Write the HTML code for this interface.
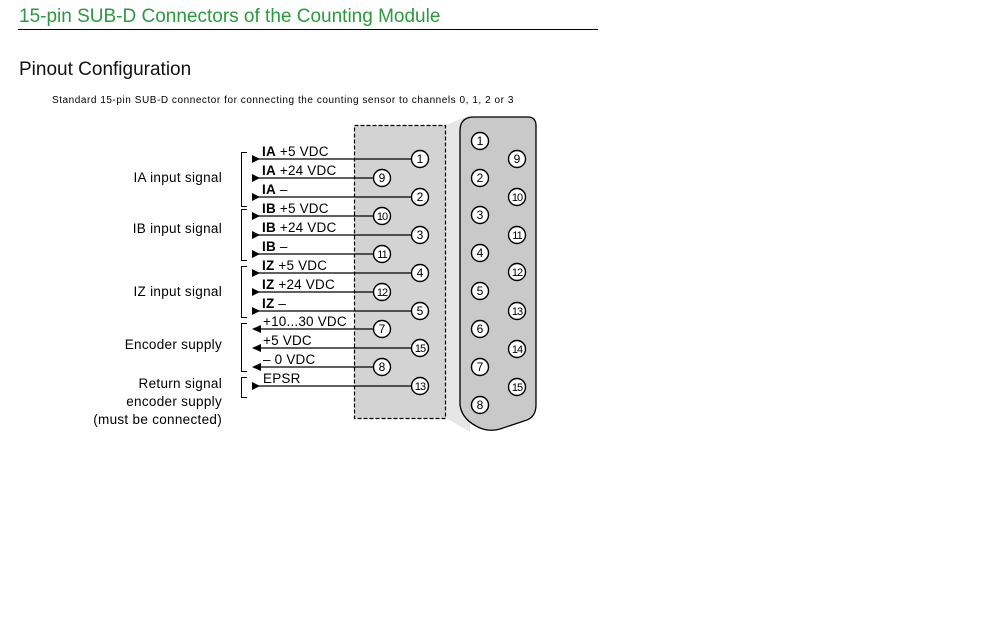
<!DOCTYPE html>
<html><head><meta charset="utf-8"><style>
html,body{margin:0;padding:0;background:#fff;width:1008px;height:630px;overflow:hidden}
svg{display:block}
text{font-family:"Liberation Sans",Arial,sans-serif}
</style></head><body>
<svg width="1008" height="630" viewBox="0 0 1008 630" xmlns="http://www.w3.org/2000/svg">
<text x="19" y="22" font-size="19" fill="#2a9a3c">15-pin SUB-D Connectors of the Counting Module</text>
<line x1="18" y1="29.5" x2="598" y2="29.5" stroke="#000" stroke-width="1"/>
<text x="19" y="75" font-size="19" fill="#111">Pinout Configuration</text>
<text x="52" y="103" font-size="10" fill="#000" letter-spacing="0.55">Standard 15-pin SUB-D connector for connecting the counting sensor to channels 0, 1, 2 or 3</text>

<polygon points="446,125 470,115 470,432 446,418" fill="#e6e6e6"/>
<rect x="354.5" y="125.5" width="91" height="293" fill="#d3d3d3" stroke="#000" stroke-width="1.2" stroke-dasharray="4,2"/>
<path d="M474,117 L528,117 Q536,117 536,126 L536,405 Q536,418 524,421 L500,429 Q490,432 480,428 Q462,420 460,405 L460,131 Q460,117 474,117 Z" fill="#c9c9c9" stroke="#000" stroke-width="1.3"/>

<g stroke="#000" stroke-width="1.4" fill="#fff">
<circle cx="480" cy="141" r="8.5"/><circle cx="480" cy="178" r="8.5"/><circle cx="480" cy="215" r="8.5"/><circle cx="480" cy="253" r="8.5"/><circle cx="480" cy="291" r="8.5"/><circle cx="480" cy="329" r="8.5"/><circle cx="480" cy="367" r="8.5"/><circle cx="480" cy="405" r="8.5"/>
<circle cx="517" cy="159" r="8.5"/><circle cx="517" cy="197" r="8.5"/><circle cx="517" cy="235" r="8.5"/><circle cx="517" cy="272" r="8.5"/><circle cx="517" cy="311" r="8.5"/><circle cx="517" cy="349" r="8.5"/><circle cx="517" cy="387" r="8.5"/>
</g>
<g font-size="12" text-anchor="middle" fill="#000">
<text x="480" y="145">1</text><text x="480" y="182">2</text><text x="480" y="219">3</text><text x="480" y="257">4</text><text x="480" y="295">5</text><text x="480" y="333">6</text><text x="480" y="371">7</text><text x="480" y="409">8</text>
<text x="517" y="163">9</text><text x="517" y="201" font-size="11" letter-spacing="-1">10</text><text x="517" y="239" font-size="11" letter-spacing="-1">11</text><text x="517" y="276" font-size="11" letter-spacing="-1">12</text><text x="517" y="315" font-size="11" letter-spacing="-1">13</text><text x="517" y="353" font-size="11" letter-spacing="-1">14</text><text x="517" y="391" font-size="11" letter-spacing="-1">15</text>
</g>

<g stroke="#000" stroke-width="1.3">
<line x1="258" y1="159" x2="412" y2="159"/>
<line x1="258" y1="178" x2="374" y2="178"/>
<line x1="258" y1="197" x2="412" y2="197"/>
<line x1="258" y1="216" x2="374" y2="216"/>
<line x1="258" y1="235" x2="412" y2="235"/>
<line x1="258" y1="254" x2="374" y2="254"/>
<line x1="258" y1="273" x2="412" y2="273"/>
<line x1="258" y1="292" x2="374" y2="292"/>
<line x1="258" y1="311" x2="412" y2="311"/>
<line x1="258" y1="329" x2="374" y2="329"/>
<line x1="258" y1="348" x2="412" y2="348"/>
<line x1="258" y1="367" x2="374" y2="367"/>
<line x1="258" y1="386" x2="412" y2="386"/>
</g>
<g fill="#000">
<polygon points="252,155 260,159 252,163"/>
<polygon points="252,174 260,178 252,182"/>
<polygon points="252,193 260,197 252,201"/>
<polygon points="252,212 260,216 252,220"/>
<polygon points="252,231 260,235 252,239"/>
<polygon points="252,250 260,254 252,258"/>
<polygon points="252,269 260,273 252,277"/>
<polygon points="252,288 260,292 252,296"/>
<polygon points="252,307 260,311 252,315"/>
<polygon points="261,325 252,329 261,333"/>
<polygon points="261,344 252,348 261,352"/>
<polygon points="261,363 252,367 261,371"/>
<polygon points="252,382 260,386 252,390"/>
</g>
<g stroke="#000" stroke-width="1.4" fill="#fff">
<circle cx="420" cy="159" r="8.5"/><circle cx="382" cy="178" r="8.5"/><circle cx="420" cy="197" r="8.5"/><circle cx="382" cy="216" r="8.5"/><circle cx="420" cy="235" r="8.5"/><circle cx="382" cy="254" r="8.5"/><circle cx="420" cy="273" r="8.5"/><circle cx="382" cy="292" r="8.5"/><circle cx="420" cy="311" r="8.5"/><circle cx="382" cy="329" r="8.5"/><circle cx="420" cy="348" r="8.5"/><circle cx="382" cy="367" r="8.5"/><circle cx="420" cy="386" r="8.5"/>
</g>
<g font-size="12" text-anchor="middle" fill="#000">
<text x="420" y="163">1</text><text x="382" y="182">9</text><text x="420" y="201">2</text><text x="382" y="220" font-size="11" letter-spacing="-1">10</text><text x="420" y="239">3</text><text x="382" y="258" font-size="11" letter-spacing="-1">11</text><text x="420" y="277">4</text><text x="382" y="296" font-size="11" letter-spacing="-1">12</text><text x="420" y="315">5</text><text x="382" y="333">7</text><text x="420" y="352" font-size="11" letter-spacing="-1">15</text><text x="382" y="371">8</text><text x="420" y="390" font-size="11" letter-spacing="-1">13</text>
</g>

<g font-size="13.5" fill="#000" letter-spacing="0.2">
<text x="262" y="156"><tspan font-weight="bold">IA</tspan> +5 VDC</text>
<text x="262" y="175"><tspan font-weight="bold">IA</tspan> +24 VDC</text>
<text x="262" y="194"><tspan font-weight="bold">IA</tspan> –</text>
<text x="262" y="213"><tspan font-weight="bold">IB</tspan> +5 VDC</text>
<text x="262" y="232"><tspan font-weight="bold">IB</tspan> +24 VDC</text>
<text x="262" y="251"><tspan font-weight="bold">IB</tspan> –</text>
<text x="262" y="270"><tspan font-weight="bold">IZ</tspan> +5 VDC</text>
<text x="262" y="289"><tspan font-weight="bold">IZ</tspan> +24 VDC</text>
<text x="262" y="308"><tspan font-weight="bold">IZ</tspan> –</text>
<text x="263" y="326">+10...30 VDC</text>
<text x="263" y="345">+5 VDC</text>
<text x="263" y="364">– 0 VDC</text>
<text x="263" y="383">EPSR</text>
</g>

<g stroke="#000" stroke-width="1" fill="none">
<path d="M247,152.5 H241.5 V206.5 H247"/>
<path d="M247,209.5 H241.5 V260.5 H247"/>
<path d="M247,266.5 H241.5 V317.5 H247"/>
<path d="M247,323.5 H241.5 V371.5 H247"/>
<path d="M247,377.5 H241.5 V397.5 H247"/>
</g>
<g font-size="13.5" fill="#000" text-anchor="end" letter-spacing="0.3">
<text x="222" y="182">IA input signal</text>
<text x="222" y="233">IB input signal</text>
<text x="222" y="296">IZ input signal</text>
<text x="222" y="349">Encoder supply</text>
<text x="222" y="388">Return signal</text>
<text x="222" y="406">encoder supply</text>
<text x="222" y="424">(must be connected)</text>
</g>
</svg>
</body></html>
